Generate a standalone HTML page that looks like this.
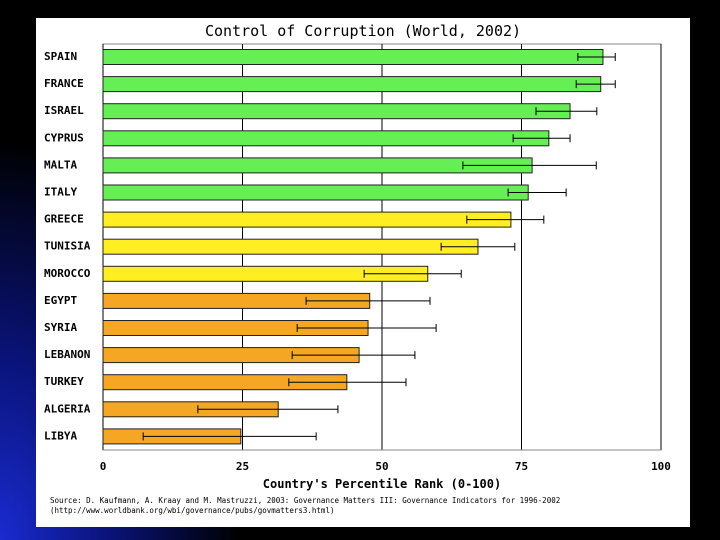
<!DOCTYPE html>
<html><head><meta charset="utf-8"><style>
html,body{margin:0;padding:0;width:720px;height:540px;overflow:hidden;background:#000;}
#bg{position:absolute;left:0;top:0;width:720px;height:540px;background:radial-gradient(ellipse 240px 400px at 0px 540px,#1a2bd0 0%,#0a137a 45%,#000 100%);}
#panel{position:absolute;left:36px;top:18px;width:654px;height:509px;background:#fff;}
svg text{font-family:"DejaVu Sans Mono","Liberation Mono",monospace;}
</style></head><body>
<div id="bg"></div>
<div id="panel"></div>
<svg id="chart" width="720" height="540" style="position:absolute;left:0;top:0"></svg>
<script>
const categories=["SPAIN","FRANCE","ISRAEL","CYPRUS","MALTA","ITALY","GREECE","TUNISIA","MOROCCO","EGYPT","SYRIA","LEBANON","TURKEY","ALGERIA","LIBYA"];
const values=[89.6,89.2,83.7,79.9,76.9,76.2,73.1,67.2,58.2,47.8,47.5,45.9,43.7,31.4,24.7];
const lowErr=[85.1,84.8,77.6,73.5,64.5,72.6,65.2,60.6,46.8,36.4,34.8,33.9,33.3,17.0,7.2];
const highErr=[91.8,91.8,88.5,83.7,88.4,83.0,79.0,73.8,64.2,58.6,59.7,55.9,54.3,42.1,38.2];
const groups=["g","g","g","g","g","g","y","y","y","o","o","o","o","o","o"];
const ticks=[0,25,50,75,100];
const colors={g:"#66ee55",y:"#ffee22",o:"#f5a623"};
const NS="http://www.w3.org/2000/svg";
const svg=document.getElementById("chart");
const X0=103,X1=661,Y0=44,Y1=450;
const x=v=>X0+(X1-X0)*v/100;
const y=i=>57+i*27.1;
function mk(t,a,parent){const e=document.createElementNS(NS,t);for(const k in a)e.setAttribute(k,a[k]);(parent||svg).appendChild(e);return e;}
const title=mk("text",{x:363,y:36,"text-anchor":"middle","font-size":"15",fill:"#000"});
title.textContent="Control of Corruption (World, 2002)";


const frame=mk("rect",{x:X0,y:Y0,width:X1-X0,height:Y1-Y0,fill:"none",stroke:"#888","stroke-width":1});


ticks.forEach(t=>{
  const g=mk("line",{x1:x(t),x2:x(t),y1:Y0,y2:Y1,stroke:"#000","stroke-width":1});
  
  
  const l=mk("text",{x:x(t),y:470,"text-anchor":"middle","font-size":"11","font-weight":"bold"});
  l.textContent=t;
  
  
});
mk("line",{x1:X0,x2:X1,y1:Y1,y2:Y1,stroke:"#888"});
categories.forEach((c,i)=>{
  const cy=y(i);
  const b=mk("rect",{x:X0,y:cy-7.5,width:x(values[i])-X0,height:15,fill:colors[groups[i]],stroke:"#222","stroke-width":1});
  
  
  const e=mk("path",{d:`M${x(lowErr[i])},${cy}H${x(highErr[i])}M${x(lowErr[i])},${cy-4}V${cy+4}M${x(highErr[i])},${cy-4}V${cy+4}`,stroke:"#000","stroke-width":1,fill:"none"});
  
  
  const l=mk("text",{x:44,y:cy+3,"font-size":"11","font-weight":"bold"});
  l.textContent=c;
  
  
});
const xt=mk("text",{x:x(50),y:488,"text-anchor":"middle","font-size":"12","font-weight":"bold"});
xt.textContent="Country's Percentile Rank (0-100)";


const s1=mk("text",{x:50,y:503,"font-size":"7.5"});
s1.textContent="Source: D. Kaufmann, A. Kraay and M. Mastruzzi, 2003: Governance Matters III: Governance Indicators for 1996-2002";


const s2=mk("text",{x:50,y:513,"font-size":"7.5"});
s2.textContent="(http://www.worldbank.org/wbi/governance/pubs/govmatters3.html)";


</script>
</body></html>
